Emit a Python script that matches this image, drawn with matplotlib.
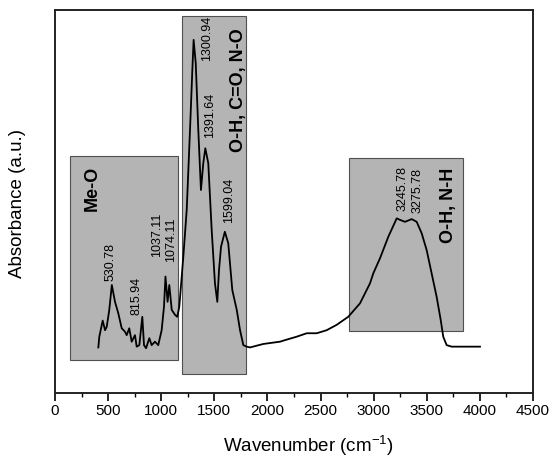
import matplotlib
matplotlib.use('Agg')
import matplotlib.pyplot as plt
from matplotlib.patches import Rectangle
from matplotlib.ticker import MultipleLocator

plt.rcParams['font.family'] = ['Liberation Sans', 'DejaVu Sans']
plt.rcParams['mathtext.fontset'] = 'custom'
plt.rcParams['mathtext.rm'] = 'Liberation Sans'

# FTIR spectrum (a.u. on a 0-100 scale)
wavenumber = [408, 417, 449, 471, 487, 511, 535, 565, 596, 628, 659, 675, 699, 722,
              753, 769, 794, 822, 838, 857, 888, 910, 941, 972, 1004, 1026, 1040,
              1060, 1076, 1099, 1130, 1151, 1170, 1208, 1240, 1271, 1293, 1305, 1325,
              1349, 1374, 1396, 1415, 1443, 1475, 1506, 1528, 1544, 1563, 1599, 1631,
              1669, 1711, 1742, 1773, 1805, 1836, 1961, 2118, 2165, 2275, 2370, 2464,
              2558, 2652, 2761, 2871, 2965, 2996, 3060, 3138, 3217, 3248, 3295, 3358,
              3405, 3452, 3499, 3546, 3593, 3631, 3655, 3687, 3734, 4001]
absorbance = [11.9, 14.7, 18.9, 16.4, 17.3, 21.7, 28.2, 23.8, 20.8, 16.9, 16.0, 15.1,
              16.9, 13.4, 15.1, 12.1, 12.5, 19.9, 12.5, 11.7, 14.3, 12.5, 13.4, 12.5,
              16.4, 22.5, 30.4, 23.8, 28.2, 21.7, 20.4, 19.9, 22.5, 35.6, 47.8, 68.7,
              84.3, 92.2, 86.1, 68.7, 53.0, 60.0, 63.9, 60.0, 42.6, 28.6, 23.8, 32.1,
              38.2, 42.1, 39.1, 26.9, 21.7, 16.4, 12.5, 12.1, 11.9, 12.8, 13.4, 13.8,
              14.7, 15.6, 15.6, 16.4, 17.8, 19.9, 23.4, 28.6, 31.2, 35.2, 40.8, 45.6,
              45.2, 44.7, 45.4, 44.7, 41.7, 37.3, 31.2, 25.1, 19.1, 14.7, 12.5, 12.1,
              12.1]

# shaded band regions: (x start, x end, y bottom, y top)
bands = [(141, 1158, 8.6, 61.9),
         (1196, 1798, 5.0, 98.4),
         (2768, 3842, 16.2, 61.4)]

# peak labels
peak_labels = ['530.78', '815.94', '1037.11', '1074.11', '1300.94', '1391.64',
               '1599.04', '3245.78', '3275.78']
peak_pos = [(518, 34.2), (763, 25.3), (960, 41.3), (1092, 40.0), (1431, 92.7),
            (1459, 72.6), (1638, 50.4), (3276, 53.5), (3417, 53.0)]

group_labels = ['Me-O', 'O-H, C=O, N-O', 'O-H, N-H']
group_pos = [(348, 53.5), (1723, 79.1), (3700, 49.1)]

fig = plt.figure(figsize=(5.51, 4.58), dpi=100)
ax = fig.add_axes([55 / 551, 65 / 458, 478 / 551, 383 / 458])

for x0, x1, y0, y1 in bands:
    ax.add_patch(Rectangle((x0, y0), x1 - x0, y1 - y0, facecolor='#b4b4b4',
                           edgecolor='#505050', linewidth=0.8, zorder=1))

ax.plot(wavenumber, absorbance, color='black', linewidth=1.3, zorder=3)

for lab, (x, y) in zip(peak_labels, peak_pos):
    ax.text(x, y, lab, rotation=90, ha='center', va='center', fontsize=9, zorder=4)

for lab, (x, y) in zip(group_labels, group_pos):
    ax.text(x, y, lab, rotation=90, ha='center', va='center', fontsize=13,
            fontweight='bold', zorder=4)

ax.set_xlim(0, 4500)
ax.set_ylim(0, 100)
ax.xaxis.set_major_locator(MultipleLocator(500))
ax.xaxis.set_minor_locator(MultipleLocator(250))
ax.set_yticks([])
ax.tick_params(axis='x', which='major', direction='out', length=6, width=1.2,
               labelsize=11, pad=2)
ax.tick_params(axis='x', which='minor', direction='out', length=3, width=1.0)
for s in ax.spines.values():
    s.set_linewidth(1.4)
    s.set_color('#222222')

fig.text(308 / 551, 1 - 452 / 458, 'Wavenumber (cm$^{-1}$)', ha='center', va='baseline',
         fontsize=13.5)
fig.text(18 / 551, 1 - 204 / 458, 'Absorbance (a.u.)', rotation=90, ha='center',
         va='center', fontsize=13.5)

fig.savefig('out.png', dpi=100)
